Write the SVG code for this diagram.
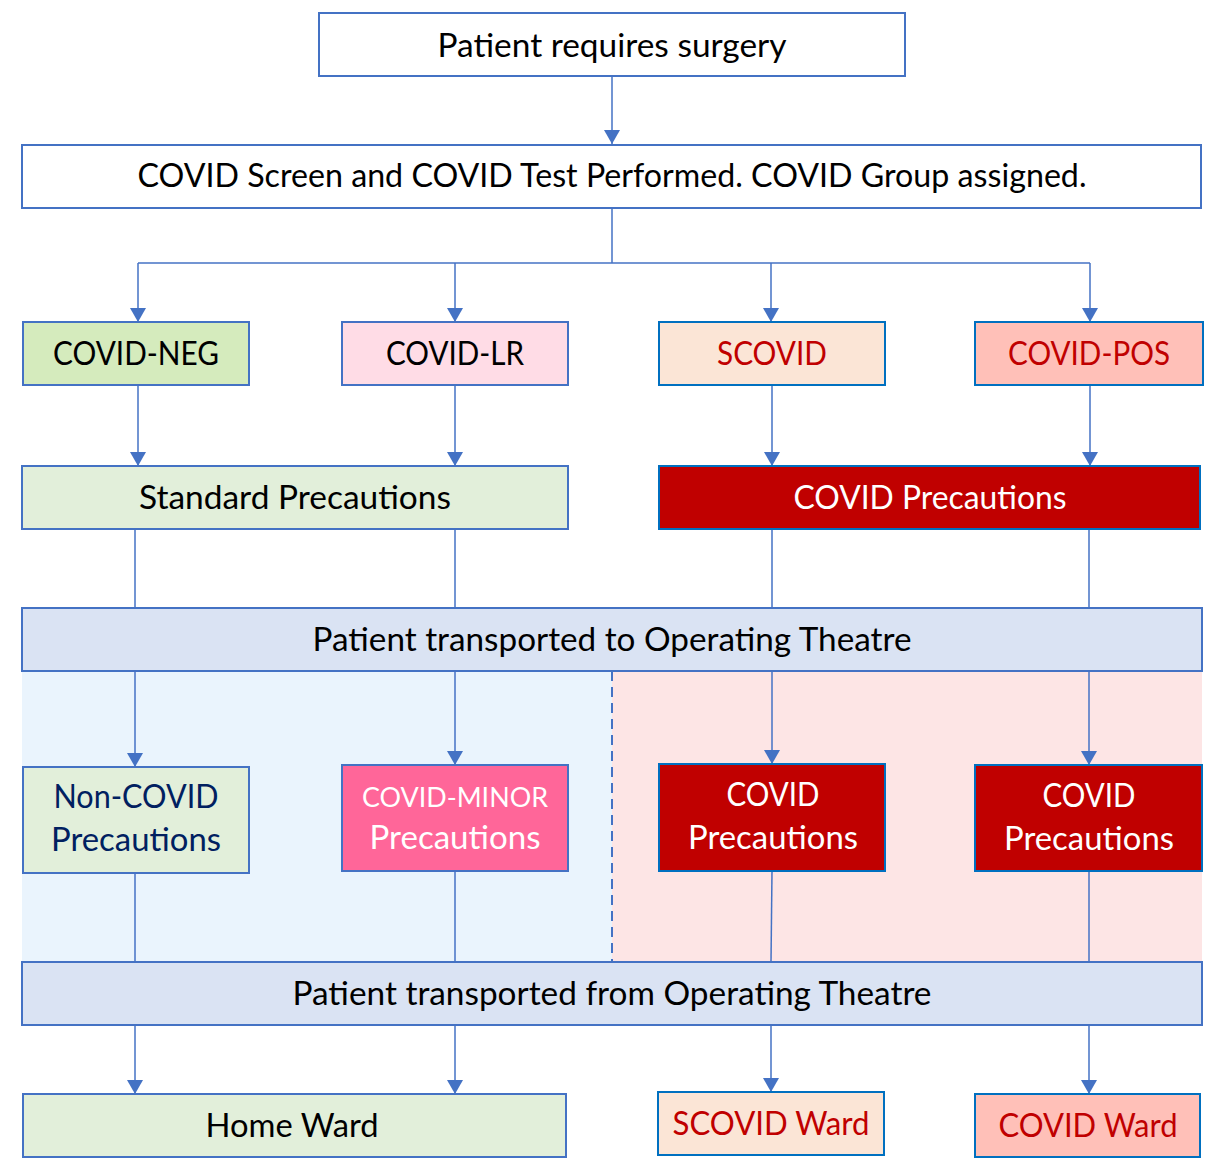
<svg xmlns="http://www.w3.org/2000/svg" width="1210" height="1160" viewBox="0 0 1210 1160">
<defs>
<marker id="arr" viewBox="0 0 14 16" refX="14" refY="8" markerWidth="14" markerHeight="16" markerUnits="userSpaceOnUse" orient="auto">
<path d="M0,0 L14,8 L0,16 Z" fill="#4472c4"/>
</marker>
<style>
.box{stroke:#4472c4;stroke-width:2}
.rbox{stroke:#0070c0;stroke-width:2}
.t{font-family:Lato,"Open Sans","Liberation Sans",sans-serif;font-size:32px;text-anchor:middle}
.c{fill:none;stroke:#4472c4;stroke-width:1.5}
.ca{fill:none;stroke:#4472c4;stroke-width:1.5;marker-end:url(#arr)}
</style>
</defs>
<rect x="0" y="0" width="1210" height="1160" fill="#ffffff"/>
<g id="zones">
<rect x="22" y="671" width="590" height="291" fill="#eaf4fd"/>
<rect x="612" y="671" width="590" height="291" fill="#fde5e5"/>
<line x1="612" y1="671" x2="612" y2="962" stroke="#4472c4" stroke-width="2" stroke-dasharray="10,6"/>
</g>
<g id="connectors">
<line class="ca" x1="612" y1="76" x2="612" y2="144"/>
<polyline class="c" points="612,208 612,263"/>
<line class="c" x1="138" y1="263" x2="1090" y2="263"/>
<line class="ca" x1="138" y1="263" x2="138" y2="322"/>
<line class="ca" x1="455" y1="263" x2="455" y2="322"/>
<line class="ca" x1="771" y1="263" x2="771" y2="322"/>
<line class="ca" x1="1090" y1="263" x2="1090" y2="322"/>
<line class="ca" x1="138" y1="385" x2="138" y2="466"/>
<line class="ca" x1="455" y1="385" x2="455" y2="466"/>
<line class="ca" x1="772" y1="385" x2="772" y2="466"/>
<line class="ca" x1="1090" y1="385" x2="1090" y2="466"/>
<line class="c" x1="135" y1="529" x2="135" y2="608"/>
<line class="c" x1="455" y1="529" x2="455" y2="608"/>
<line class="c" x1="772" y1="529" x2="772" y2="608"/>
<line class="c" x1="1089" y1="529" x2="1089" y2="608"/>
<line class="ca" x1="135" y1="671" x2="135" y2="767"/>
<line class="ca" x1="455" y1="671" x2="455" y2="765"/>
<line class="ca" x1="772" y1="671" x2="772" y2="764"/>
<line class="ca" x1="1089" y1="671" x2="1089" y2="765"/>
<line class="c" x1="135" y1="873" x2="135" y2="962"/>
<line class="c" x1="455" y1="871" x2="455" y2="962"/>
<line class="c" x1="772" y1="871" x2="771" y2="962"/>
<line class="c" x1="1089" y1="871" x2="1089" y2="962"/>
<line class="ca" x1="135" y1="1025" x2="135" y2="1094"/>
<line class="ca" x1="455" y1="1025" x2="455" y2="1094"/>
<line class="ca" x1="771" y1="1025" x2="771" y2="1092"/>
<line class="ca" x1="1089" y1="1025" x2="1089" y2="1094"/>
</g>
<g id="n-surgery">
<rect class="box" x="319" y="13" width="586" height="63" fill="#ffffff"/>
<text class="t" x="612" y="57" textLength="349" lengthAdjust="spacingAndGlyphs">Patient requires surgery</text>
</g>
<g id="n-screen">
<rect class="box" x="22" y="145" width="1179" height="63" fill="#ffffff"/>
<text class="t" x="612" y="187" textLength="949" lengthAdjust="spacingAndGlyphs">COVID Screen and COVID Test Performed. COVID Group assigned.</text>
</g>
<g id="n-neg">
<rect class="box" x="23" y="322" width="226" height="63" fill="#d5ebbd"/>
<text class="t" x="136" y="365" textLength="166" lengthAdjust="spacingAndGlyphs">COVID-NEG</text>
</g>
<g id="n-lr">
<rect class="box" x="342" y="322" width="226" height="63" fill="#ffdce6"/>
<text class="t" x="455" y="365" textLength="138" lengthAdjust="spacingAndGlyphs">COVID-LR</text>
</g>
<g id="n-scovid">
<rect class="rbox" x="659" y="322" width="226" height="63" fill="#fbe5d6"/>
<text class="t" x="772" y="365" fill="#c00000" textLength="110" lengthAdjust="spacingAndGlyphs">SCOVID</text>
</g>
<g id="n-pos">
<rect class="rbox" x="975" y="322" width="228" height="63" fill="#ffc0b8"/>
<text class="t" x="1089" y="365" fill="#c00000" textLength="162" lengthAdjust="spacingAndGlyphs">COVID-POS</text>
</g>
<g id="n-standard">
<rect class="box" x="22" y="466" width="546" height="63" fill="#e2efda"/>
<text class="t" x="295" y="509" textLength="312" lengthAdjust="spacingAndGlyphs">Standard Precautions</text>
</g>
<g id="n-covidprec">
<rect class="rbox" x="659" y="466" width="541" height="63" fill="#c00000"/>
<text class="t" x="930" y="509" fill="#ffffff" textLength="273" lengthAdjust="spacingAndGlyphs">COVID Precautions</text>
</g>
<g id="n-to-ot">
<rect class="box" x="22" y="608" width="1180" height="63" fill="#dae3f3"/>
<text class="t" x="612" y="651" textLength="599" lengthAdjust="spacingAndGlyphs">Patient transported to Operating Theatre</text>
</g>
<g id="n-noncovid">
<rect class="box" x="23" y="767" width="226" height="106" fill="#e2efda"/>
<text class="t" x="136" y="808" fill="#002060" textLength="165" lengthAdjust="spacingAndGlyphs">Non-COVID</text>
<text class="t" x="136" y="851" fill="#002060" textLength="170" lengthAdjust="spacingAndGlyphs">Precautions</text>
</g>
<g id="n-minor">
<rect class="box" x="342" y="765" width="226" height="106" fill="#ff6699"/>
<text class="t" x="455" y="807" fill="#ffffff" style="font-size:27px" textLength="186" lengthAdjust="spacingAndGlyphs">COVID-MINOR</text>
<text class="t" x="455" y="849" fill="#ffffff" textLength="171" lengthAdjust="spacingAndGlyphs">Precautions</text>
</g>
<g id="n-covid-a">
<rect class="rbox" x="659" y="764" width="226" height="107" fill="#c00000"/>
<text class="t" x="773" y="806" fill="#ffffff" textLength="93" lengthAdjust="spacingAndGlyphs">COVID</text>
<text class="t" x="773" y="849" fill="#ffffff" textLength="170" lengthAdjust="spacingAndGlyphs">Precautions</text>
</g>
<g id="n-covid-b">
<rect class="rbox" x="975" y="765" width="227" height="106" fill="#c00000"/>
<text class="t" x="1089" y="807" fill="#ffffff" textLength="93" lengthAdjust="spacingAndGlyphs">COVID</text>
<text class="t" x="1089" y="850" fill="#ffffff" textLength="170" lengthAdjust="spacingAndGlyphs">Precautions</text>
</g>
<g id="n-from-ot">
<rect class="box" x="22" y="962" width="1180" height="63" fill="#dae3f3"/>
<text class="t" x="612" y="1005" textLength="639" lengthAdjust="spacingAndGlyphs">Patient transported from Operating Theatre</text>
</g>
<g id="n-home">
<rect class="box" x="23" y="1094" width="543" height="63" fill="#e2efda"/>
<text class="t" x="292" y="1137" textLength="173" lengthAdjust="spacingAndGlyphs">Home Ward</text>
</g>
<g id="n-scovidward">
<rect class="rbox" x="658" y="1092" width="226" height="63" fill="#fbe5d6"/>
<text class="t" x="771" y="1135" fill="#c00000" textLength="197" lengthAdjust="spacingAndGlyphs">SCOVID Ward</text>
</g>
<g id="n-covidward">
<rect class="rbox" x="975" y="1094" width="225" height="63" fill="#ffc0b8"/>
<text class="t" x="1088" y="1137" fill="#c00000" textLength="179" lengthAdjust="spacingAndGlyphs">COVID Ward</text>
</g>
</svg>
